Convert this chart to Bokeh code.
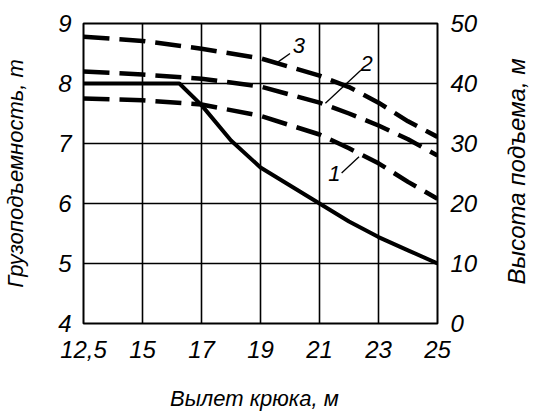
import numpy as np
from bokeh.plotting import figure
from bokeh.layouts import row
from bokeh.models import Range1d, LinearAxis, FixedTicker
from bokeh.core.properties import value
from bokeh.embed import file_html
from bokeh.resources import INLINE

# ---- data ----
reach_ticks = [12.5, 15, 17, 19, 21, 23, 25]
tick_labels = ["12,5", "15", "17", "19", "21", "23", "25"]

capacity_x = [12.5, 15, 16.25, 17, 18, 19, 20, 21, 22, 23, 24, 25]
capacity_t = [8.0, 8.0, 8.0, 7.64, 7.05, 6.6, 6.3, 6.0, 5.7, 5.44, 5.22, 5.0]

height_x = [12.5, 15, 17, 19, 21, 22, 23, 24, 25]
height_1 = [37.5, 37.2, 36.5, 34.6, 31.5, 29.2, 26.7, 23.6, 20.8]
height_2 = [42.0, 41.5, 40.8, 39.5, 36.8, 35.0, 33.0, 30.7, 28.0]
height_3 = [47.8, 47.1, 45.8, 44.2, 41.3, 39.4, 36.8, 33.7, 31.1]

curve_labels = ["1", "2", "3"]
label_x = [21.5, 22.6, 20.3]
label_h = [25.0, 43.4, 46.4]
leader_x0 = [21.75, 21.2, 19.6]
leader_h0 = [25.1, 36.7, 43.6]
leader_x1 = [22.34, 22.4, 20.0]
leader_h1 = [27.8, 42.2, 45.0]

x_title = "Вылет  крюка,  м"
y_title = "Грузоподъемность, т"
y2_title = "Высота подъема, м"

idx = list(range(len(reach_ticks)))


def pos(x):
    return list(np.interp(x, reach_ticks, idx))


FONT = "Liberation Sans"
H = 418
TOP, BOTTOM = 23, 95
MAIN_W, SIDE_W = 500, 33

fig = figure(width=MAIN_W, height=H, output_backend="svg", toolbar_location=None,
             x_range=Range1d(0, 6), y_range=Range1d(4, 9),
             min_border_left=83, min_border_top=TOP, min_border_right=MAIN_W - 437,
             min_border_bottom=BOTTOM)
fig.extra_y_ranges = {"h": Range1d(0, 50)}

fig.outline_line_color = "black"
fig.outline_line_width = 2
fig.background_fill_color = "white"
fig.border_fill_color = "white"

for g in (fig.xgrid, fig.ygrid):
    g.grid_line_color = "black"
    g.grid_line_width = 1.6
fig.xgrid.ticker = FixedTicker(ticks=idx)
fig.ygrid.ticker = FixedTicker(ticks=[4, 5, 6, 7, 8, 9])


def style_axis(ax, label, standoff, label_standoff):
    ax.axis_label = label
    ax.axis_label_text_font = FONT
    ax.axis_label_text_font_style = "italic"
    ax.axis_label_text_font_size = "22px"
    ax.axis_label_text_color = "black"
    ax.axis_label_standoff = label_standoff
    ax.major_label_text_font = FONT
    ax.major_label_text_font_style = "italic"
    ax.major_label_text_font_size = "24px"
    ax.major_label_text_color = "black"
    ax.major_label_standoff = standoff
    ax.axis_line_color = None
    ax.major_tick_line_color = None
    ax.minor_tick_line_color = None
    ax.major_tick_out = 0
    ax.major_tick_in = 0
    ax.minor_tick_out = 0
    ax.minor_tick_in = 0


xa = fig.xaxis[0]
xa.ticker = FixedTicker(ticks=idx)
xa.major_label_overrides = {i: t for i, t in zip(idx, tick_labels)}
style_axis(xa, x_title, 17, 25)

ya = fig.yaxis[0]
ya.ticker = FixedTicker(ticks=[4, 5, 6, 7, 8, 9])
style_axis(ya, y_title, 12, 27)

ra = LinearAxis(y_range_name="h", ticker=FixedTicker(ticks=[0, 10, 20, 30, 40, 50]))
style_axis(ra, None, 13, 0)
fig.add_layout(ra, "right")

# curves
fig.line(pos(capacity_x), capacity_t, line_color="black", line_width=4)
for hv in (height_1, height_2, height_3):
    fig.line(pos(height_x), hv, y_range_name="h", line_color="black",
             line_width=4.5, line_dash="26 10")

# curve number callouts
fig.segment(x0=pos(leader_x0), y0=leader_h0, x1=pos(leader_x1), y1=leader_h1,
            y_range_name="h", line_color="black", line_width=1.3)
fig.text(x=pos(label_x), y=label_h, text=curve_labels, y_range_name="h",
         text_font=value(FONT), text_font_style="italic", text_font_size="22px",
         text_align="center", text_baseline="middle", text_color="black")

# narrow side strip holding the right-hand axis title (reads bottom-to-top)
frame_h = H - TOP - BOTTOM
side = figure(width=SIDE_W, height=H, output_backend="svg", toolbar_location=None,
              x_range=Range1d(0, SIDE_W),
              y_range=Range1d(4 - 5 * BOTTOM / frame_h, 9 + 5 * TOP / frame_h),
              min_border=0, x_axis_location=None, y_axis_location=None)
side.outline_line_color = None
side.xgrid.visible = False
side.ygrid.visible = False
side.text(x=[16], y=[5.95], text=[y2_title], angle=np.pi / 2,
          text_font=value(FONT), text_font_style="italic", text_font_size="24px",
          text_align="center", text_baseline="middle", text_color="black")

p = row(fig, side)
open("out.html", "w").write(file_html(p, INLINE))
